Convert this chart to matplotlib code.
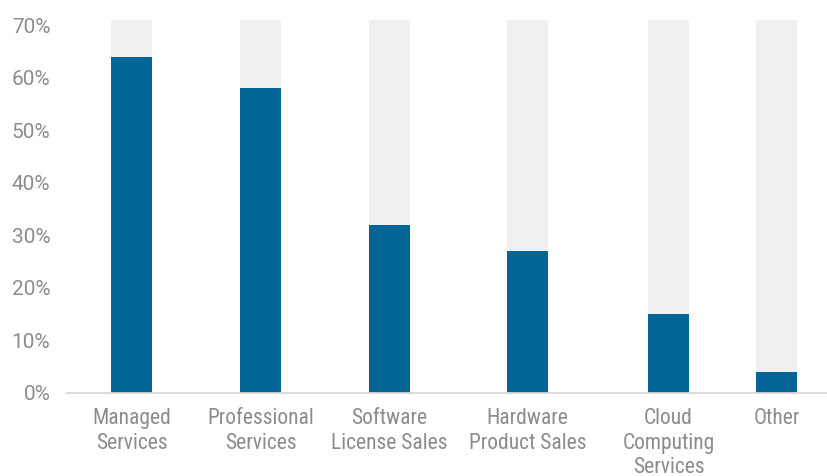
import matplotlib
matplotlib.use("Agg")
import matplotlib.pyplot as plt
from matplotlib.ticker import FuncFormatter

categories = ["Managed\nServices", "Professional\nServices", "Software\nLicense Sales",
              "Hardware\nProduct Sales", "Cloud\nComputing\nServices", "Other"]
shares = [64, 58, 32, 27, 15, 4]
axis_max = 71
y_ticks = [0, 10, 20, 30, 40, 50, 60, 70]

# horizontal placement of each bar within the axes (0..1)
x_pos = [0.0848, 0.2543, 0.4238, 0.6051, 0.7904, 0.9323]
bar_w = 0.054

plt.rcParams["font.family"] = ["Roboto", "DejaVu Sans"]
label_color = "#8c8c8c"

fig = plt.figure(figsize=(8.28, 4.76), dpi=100)
ax = fig.add_axes([0.0809, 0.1744, 0.9191, 0.7836])

# light backdrop column behind each bar, then the value bar
ax.bar(x_pos, [axis_max] * len(shares), width=bar_w, color="#f0f0f0", zorder=1)
ax.bar(x_pos, shares, width=bar_w, color="#036596", zorder=2)

ax.set_xlim(0, 1)
ax.set_ylim(0, axis_max)
ax.set_yticks(y_ticks)
ax.yaxis.set_major_formatter(FuncFormatter(lambda v, _: f"{v:.0f}%"))
ax.set_xticks(x_pos)
ax.set_xticklabels(categories, linespacing=1.22,
                   family=["Roboto Condensed", "DejaVu Sans"])

for side in ("top", "right", "left"):
    ax.spines[side].set_visible(False)
ax.spines["bottom"].set_color("#d9d9d9")
ax.spines["bottom"].set_linewidth(1.3)
ax.spines["bottom"].set_zorder(3)

ax.tick_params(axis="both", length=0, labelcolor=label_color)
ax.tick_params(axis="y", pad=12, labelsize=15)
ax.tick_params(axis="x", pad=11, labelsize=15.5)

fig.savefig("out.png", dpi=100)
